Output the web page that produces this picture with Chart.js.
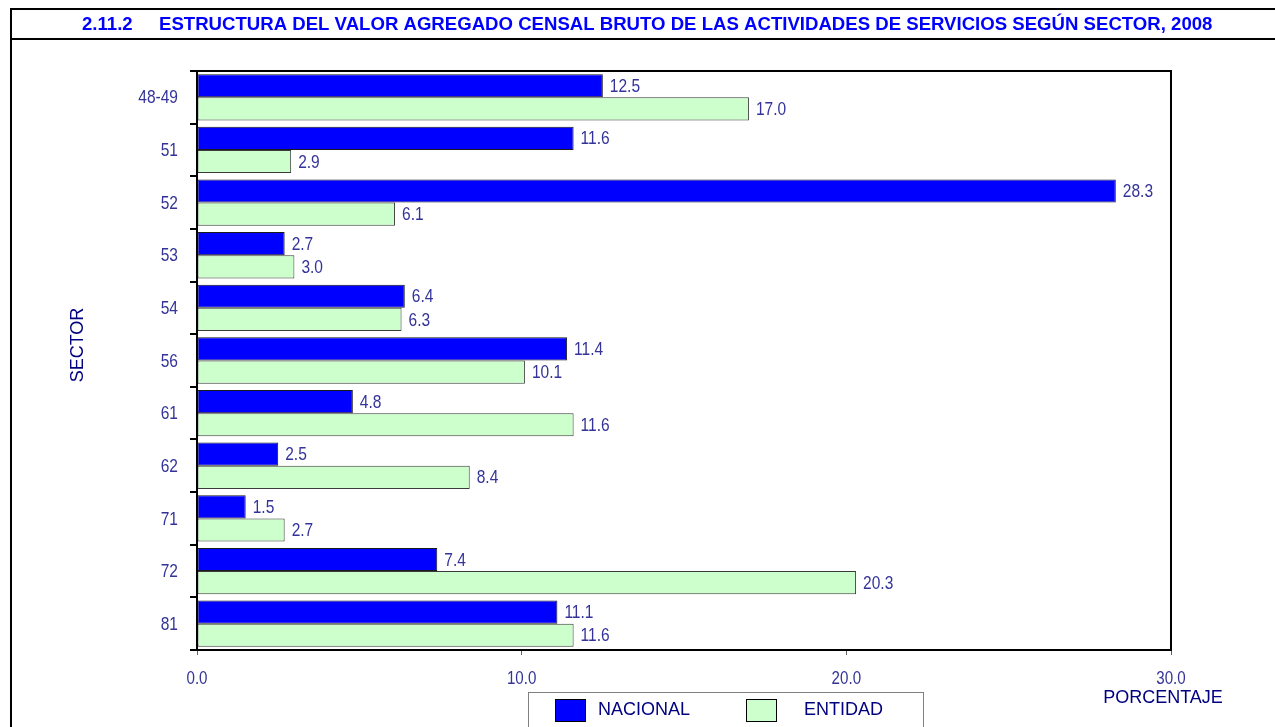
<!DOCTYPE html>
<html>
<head>
<meta charset="utf-8">
<script src="https://cdn.jsdelivr.net/npm/chart.js@4/dist/chart.umd.min.js"></script>
<style>
  html, body { margin: 0; padding: 0; background: #fff; }
  #wrap { width: 1275px; height: 727px; position: relative; }
</style>
</head>
<body>
<div id="wrap"><canvas id="c" width="1275" height="727"></canvas></div>
<script>
// Sector codes (SCIAN) and percentage shares of gross census value added
const sectores = ['48-49', '51', '52', '53', '54', '56', '61', '62', '71', '72', '81'];
const nacional = [12.5, 11.6, 28.3, 2.7, 6.4, 11.4, 4.8, 2.5, 1.5, 7.4, 11.1];
const entidad  = [17.0, 2.9, 6.1, 3.0, 6.3, 10.1, 11.6, 8.4, 2.7, 20.3, 11.6];
const xTicks   = [0, 10, 20, 30];

const TITLE_NUM = '2.11.2';
const TITLE_TXT = 'ESTRUCTURA DEL VALOR AGREGADO CENSAL BRUTO DE LAS ACTIVIDADES DE SERVICIOS SEGÚN SECTOR, 2008';

const LABEL_COLOR = '#333399';
const AXIS_TITLE_COLOR = '#000080';

// Condensed digits, as used for tick and value labels
function narrowText(ctx, text, x, y, align, size, color) {
  ctx.save();
  ctx.font = size + 'px "Liberation Sans", Arial, sans-serif';
  ctx.fillStyle = color;
  ctx.textAlign = align;
  ctx.textBaseline = 'middle';
  ctx.translate(x, y);
  ctx.scale(0.84, 1);
  ctx.fillText(text, 0, 0);
  ctx.restore();
}

const decorPlugin = {
  id: 'decor',
  afterDraw(chart) {
    const ctx = chart.ctx;
    const a = chart.chartArea;
    const xs = chart.scales.x, ys = chart.scales.y;

    // Outer frame and title band
    ctx.save();
    ctx.strokeStyle = '#000';
    ctx.lineWidth = 2;
    ctx.beginPath();
    ctx.moveTo(11, 727); ctx.lineTo(11, 9); ctx.lineTo(1276, 9);
    ctx.moveTo(11, 39); ctx.lineTo(1276, 39);
    ctx.stroke();
    ctx.restore();

    ctx.save();
    ctx.font = 'bold 18.6px "Liberation Sans", Arial, sans-serif';
    ctx.fillStyle = '#0000FF';
    ctx.textBaseline = 'middle';
    ctx.textAlign = 'left';
    ctx.fillText(TITLE_NUM, 82, 25);
    ctx.fillText(TITLE_TXT, 159, 25);
    ctx.restore();

    // Plot frame (top and right edges)
    ctx.save();
    ctx.strokeStyle = '#000';
    ctx.lineWidth = 2;
    ctx.strokeRect(a.left, a.top, a.right - a.left, a.bottom - a.top);
    ctx.restore();

    // Category labels
    ys.ticks.forEach((t, i) => {
      narrowText(ctx, sectores[i], 178, ys.getPixelForTick(i) + 1, 'right', 18.5, LABEL_COLOR);
    });
    // Value axis labels
    xTicks.forEach(v => {
      narrowText(ctx, v.toFixed(1), xs.getPixelForValue(v), 679, 'center', 18, LABEL_COLOR);
    });

    // Value labels at bar ends
    chart.data.datasets.forEach((ds, di) => {
      const meta = chart.getDatasetMeta(di);
      meta.data.forEach((el, i) => {
        narrowText(ctx, ds.data[i].toFixed(1), el.x + 7, el.y + 1, 'left', 18.5, LABEL_COLOR);
      });
    });

    // Axis titles
    ctx.save();
    ctx.font = '18px "Liberation Sans", Arial, sans-serif';
    ctx.fillStyle = AXIS_TITLE_COLOR;
    ctx.textAlign = 'center';
    ctx.textBaseline = 'middle';
    ctx.fillText('PORCENTAJE', 1163, 698);
    ctx.translate(78, 345);
    ctx.rotate(-Math.PI / 2);
    ctx.fillText('SECTOR', 0, 0);
    ctx.restore();

    // Legend box
    ctx.save();
    ctx.strokeStyle = '#808080';
    ctx.lineWidth = 1;
    ctx.strokeRect(528.5, 692.5, 395, 60);
    const items = [
      { x: 555, tx: 598 },
      { x: 746, tx: 804 }
    ];
    chart.data.datasets.forEach((ds, di) => {
      const it = items[di];
      ctx.fillStyle = ds.backgroundColor;
      ctx.fillRect(it.x, 699, 31, 23);
      ctx.strokeStyle = '#000';
      ctx.strokeRect(it.x + 0.5, 699.5, 30, 22);
      ctx.font = '18px "Liberation Sans", Arial, sans-serif';
      ctx.fillStyle = AXIS_TITLE_COLOR;
      ctx.textAlign = 'left';
      ctx.textBaseline = 'middle';
      ctx.fillText(ds.label, it.tx, 710);
    });
    ctx.restore();
  }
};

new Chart(document.getElementById('c'), {
  type: 'bar',
  data: {
    labels: sectores,
    datasets: [
      {
        label: 'NACIONAL',
        data: nacional,
        backgroundColor: '#0000FF',
        borderColor: '#1a1a1a',
        borderWidth: 1,
        borderSkipped: false,
        categoryPercentage: 0.88,
        barPercentage: 1.0
      },
      {
        label: 'ENTIDAD',
        data: entidad,
        backgroundColor: '#CCFFCC',
        borderColor: '#3a3a3a',
        borderWidth: 1,
        borderSkipped: false,
        categoryPercentage: 0.88,
        barPercentage: 1.0
      }
    ]
  },
  options: {
    indexAxis: 'y',
    responsive: false,
    animation: false,
    devicePixelRatio: 1,
    layout: { padding: { left: 0, right: 104, top: 71, bottom: 0 } },
    plugins: {
      legend: { display: false },
      title: { display: false },
      tooltip: { enabled: false }
    },
    scales: {
      x: {
        type: 'linear',
        min: 0,
        max: 30,
        ticks: { display: false, stepSize: 10 },
        grid: {
          drawOnChartArea: false,
          drawTicks: true,
          tickLength: 5,
          color: '#666',
          lineWidth: 1
        },
        border: { display: true, color: '#000', width: 2 },
        afterFit(scale) { scale.height = 77; }
      },
      y: {
        type: 'category',
        offset: true,
        ticks: { display: false },
        grid: {
          offset: true,
          drawOnChartArea: false,
          drawTicks: true,
          tickLength: 7,
          color: '#000',
          lineWidth: 2
        },
        border: { display: true, color: '#000', width: 2 },
        afterFit(scale) { scale.width = 197; }
      }
    }
  },
  plugins: [decorPlugin]
});
</script>
</body>
</html>
